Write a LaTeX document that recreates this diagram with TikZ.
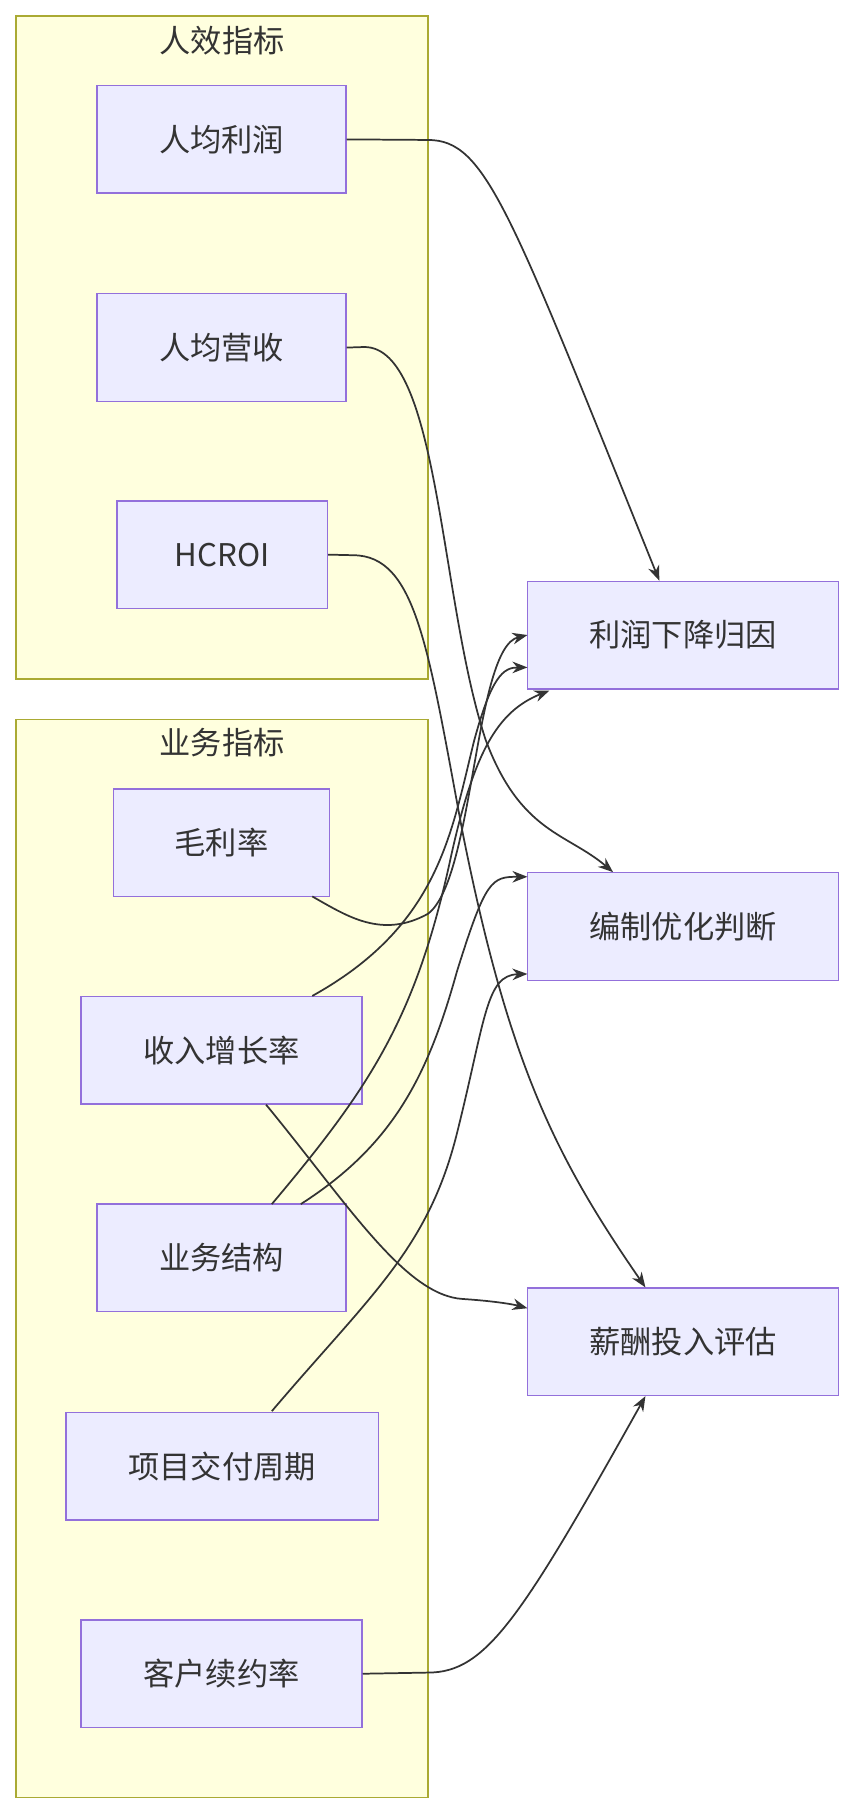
\documentclass[tikz,border=0pt]{standalone}
\usepackage{fontspec}
\setmainfont{Noto Sans CJK SC}
\usetikzlibrary{arrows.meta}
\definecolor{boxfill}{HTML}{ECECFF}
\definecolor{boxline}{HTML}{9370DB}
\definecolor{grpfill}{HTML}{FFFFDE}
\definecolor{grpline}{HTML}{AAAA33}
\definecolor{linkcol}{HTML}{333333}
\begin{document}
\begin{tikzpicture}[x=1pt,y=-1pt,
      box/.style={draw=boxline,fill=boxfill,line width=1.2pt,minimum height=93pt,
        inner sep=0pt,font=\fontsize{27}{32}\selectfont,text=linkcol},
      grp/.style={draw=grpline,fill=grpfill,line width=1.2pt},
      link/.style={draw=linkcol,line width=1.5pt,-{Stealth[length=13pt,width=10pt]}}]
      \useasboundingbox[fill=white] (0,0) rectangle (740,1570);
      % groups
      \draw[grp] (14,14) rectangle (370,587);
      \node[font=\fontsize{27}{32}\selectfont,text=linkcol] (g1) at (192,35) {人效指标};
      \draw[grp] (14,622) rectangle (370,1554);
      \node[font=\fontsize{27}{32}\selectfont,text=linkcol] (g2) at (192,642) {业务指标};
      % left nodes
      \node[box,minimum width=215pt] (rjlr) at (191.5,120.5) {人均利润};
      \node[box,minimum width=215pt] (rjys) at (191.5,300.5) {人均营收};
      \node[box,minimum width=182pt] (hcroi) at (192,479.5) {HCROI};
      \node[box,minimum width=187pt] (mll) at (191.5,728.5) {毛利率};
      \node[box,minimum width=243pt] (srzz) at (191.5,908) {收入增长率};
      \node[box,minimum width=215pt] (ywjg) at (191.5,1087.5) {业务结构};
      \node[box,minimum width=270pt] (xmjf) at (192,1267.5) {项目交付周期};
      \node[box,minimum width=243pt] (khxy) at (191.5,1447) {客户续约率};
      % right nodes
      \node[box,minimum width=269pt] (lrxj) at (590.5,549) {利润下降归因};
      \node[box,minimum width=269pt] (bzyh) at (590.5,801) {编制优化判断};
      \node[box,minimum width=269pt] (xctr) at (590.5,1160) {薪酬投入评估};
      % links
      \draw[link] (rjlr.east) -- (370,121) .. controls (420,121) and (440,180) .. (570,502);
      \draw[link] (rjys.east) -- (315,300) .. controls (380,300) and (380,520) .. (420,640) .. controls (450,720) and (490,720) .. (530,754);
      \draw[link] (hcroi.east) -- (305,480) .. controls (360,480) and (370,560) .. (400,720) .. controls (440,920) and (480,1000) .. (558,1113);
      \draw[link] (270,775) .. controls (300,792) and (330,812) .. (370,790) .. controls (410,760) and (410,560) .. (456,549);
      \draw[link] (270,861) .. controls (380,800) and (390,720) .. (410,640) .. controls (425,585) and (435,577) .. (456,577);
      \draw[link] (230,955) .. controls (300,1040) and (350,1120) .. (400,1123) .. controls (430,1125) and (445,1128) .. (456,1131);
      \draw[link] (235,1041) .. controls (320,940) and (360,880) .. (390,740) .. controls (410,650) and (430,615) .. (475,597);
      \draw[link] (260,1041) .. controls (340,990) and (370,930) .. (395,840) .. controls (420,760) and (425,758) .. (456,758);
      \draw[link] (235,1220) .. controls (320,1120) and (370,1080) .. (395,980) .. controls (420,880) and (420,843) .. (456,842);
      \draw[link] (khxy.east) -- (370,1446) .. controls (420,1446) and (450,1400) .. (558,1207);
\end{tikzpicture}
\end{document}
